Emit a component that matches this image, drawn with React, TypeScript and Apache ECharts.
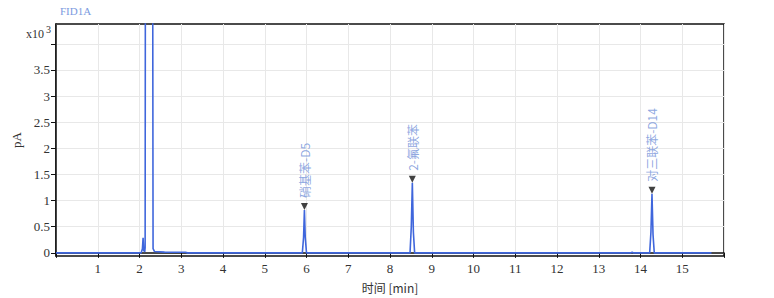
import React, { useEffect, useRef } from "react";
import * as echarts from "echarts";

// Chromatogram signal (time in min, signal in x10^3 pA)
const times = [0, 2.04, 2.07, 2.086, 2.1, 2.125, 2.135, 2.148, 2.305, 2.325, 2.36, 2.6, 3.1, 3.15, 5.9, 5.93, 5.95, 5.97, 6.0, 8.48, 8.51, 8.535, 8.56, 8.59, 13.77, 13.8, 13.83, 14.22, 14.25, 14.275, 14.3, 14.33, 15.7];
const signal = [0, 0, 0.08, 0.29, 0.05, 0.02, 0.1, 12, 12, 0.08, 0.025, 0.015, 0.012, 0, 0, 0.3, 0.82, 0.3, 0, 0, 0.5, 1.34, 0.4, 0, 0, 0.015, 0, 0, 0.4, 1.13, 0.35, 0, 0];

// Identified peaks
const peakNames = ["硝基苯-D5", "2-氟联苯", "对三联苯-D14"];
const peakTimes = [5.95, 8.535, 14.275];
const peakHeights = [0.82, 1.34, 1.13];

// Axis ticks
const yTicks = [0, 0.5, 1, 1.5, 2, 2.5, 3, 3.5, 4];
const yLabels = [0, 0.5, 1, 1.5, 2, 2.5, 3, 3.5];
const xLabels = [1, 2, 3, 4, 5, 6, 7, 8, 9, 10, 11, 12, 13, 14, 15];

const serif = "'Liberation Serif', 'Noto Sans CJK SC', serif";
const cjk = "'Noto Sans CJK SC', 'Liberation Serif', sans-serif";

export default function App() {
  const ref = useRef<HTMLDivElement>(null);
  useEffect(() => {
    if (!ref.current) return;
    const chart = echarts.init(ref.current, undefined, { renderer: "svg" });
    chart.setOption({
      animation: false,
      backgroundColor: "#ffffff",
      grid: {
        left: 56,
        top: 24,
        right: 50,
        bottom: 40,
        show: true,
        borderColor: "#111",
        borderWidth: 1.5,
        containLabel: false,
      },
      graphic: [
        { type: "text", left: 60, top: 5, style: { text: "FID1A", fill: "#7b9be0", font: `11px ${serif}` } },
        { type: "text", left: 26, top: 28, style: { text: "x10", fill: "#333", font: `12px ${serif}` } },
        { type: "text", left: 46, top: 24, style: { text: "3", fill: "#333", font: `10px ${serif}` } },
      ],
      xAxis: {
        type: "value",
        min: 0,
        max: 16,
        interval: 1,
        name: "时间 [min]",
        nameLocation: "middle",
        nameGap: 25,
        nameTextStyle: { fontFamily: cjk, fontSize: 12, color: "#333" },
        axisLine: { lineStyle: { color: "#111", width: 1.5 } },
        axisTick: { length: 5, lineStyle: { color: "#111" } },
        axisLabel: {
          margin: 6,
          fontFamily: serif,
          fontSize: 13,
          color: "#333",
          customValues: xLabels,
        },
        splitLine: { show: true, lineStyle: { color: "#e8e8e8", width: 1 } },
      },
      yAxis: {
        type: "value",
        min: -0.06,
        max: 4.38,
        name: "pA",
        nameLocation: "middle",
        nameGap: 28,
        nameTextStyle: { fontFamily: serif, fontSize: 13, color: "#333" },
        axisLine: { show: true, lineStyle: { color: "#111", width: 1.5 } },
        axisTick: { show: true, length: 5, lineStyle: { color: "#111" }, customValues: yTicks },
        axisLabel: {
          margin: 6,
          fontFamily: serif,
          fontSize: 13,
          color: "#333",
          customValues: yLabels,
        },
        splitLine: { show: true, lineStyle: { color: "#e8e8e8", width: 1 }, customValues: yTicks },
      },
      series: [
        {
          type: "line",
          data: times.map((t, i) => [t, signal[i]]),
          showSymbol: false,
          symbol: "none",
          clip: true,
          lineStyle: { color: "#3f66dc", width: 1.6 },
          z: 2,
        },
        {
          type: "scatter",
          data: peakTimes.map((t, i) => ({ name: peakNames[i], value: [t, peakHeights[i]] })),
          symbol: "triangle",
          symbolRotate: 180,
          symbolSize: [7, 7],
          symbolOffset: [0, -3.5],
          itemStyle: { color: "#111" },
          label: {
            show: true,
            formatter: "{b}",
            position: "top",
            rotate: 90,
            align: "left",
            verticalAlign: "middle",
            distance: 5,
            fontFamily: cjk,
            fontSize: 12,
            color: "#7090d8",
          },
          z: 3,
        },
      ],
    });
    return () => chart.dispose();
  }, []);
  return (
    <div
      ref={ref}
      style={{ position: "absolute", left: 0, top: 0, width: 774, height: 298 }}
    />
  );
}
